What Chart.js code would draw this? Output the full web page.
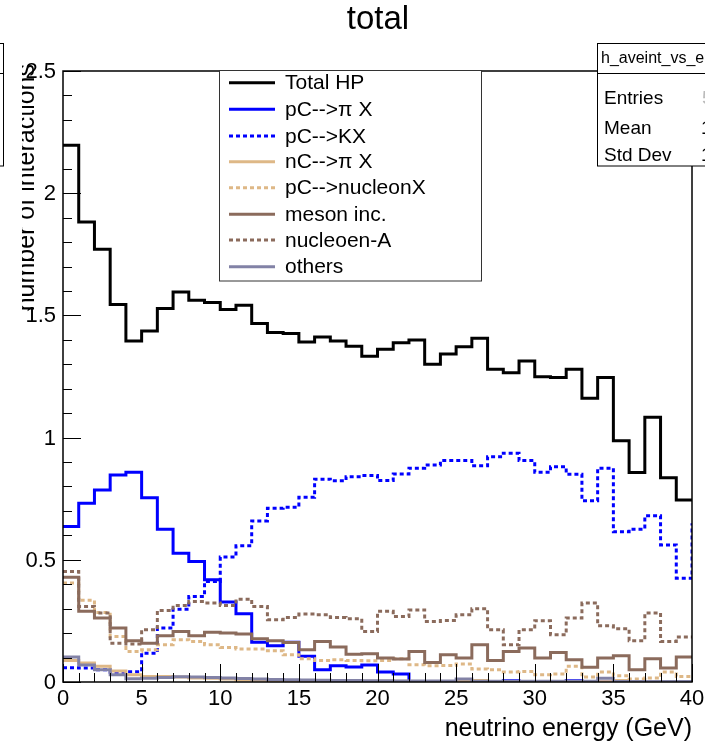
<!DOCTYPE html>
<html>
<head>
<meta charset="utf-8">
<script src="https://cdn.jsdelivr.net/npm/chart.js@4.4.1/dist/chart.umd.min.js"></script>
<style>
  html, body { margin: 0; padding: 0; background: #fff; }
  canvas { display: block; }
</style>
</head>
<body>
<canvas id="chart" width="705" height="742"></canvas>
<script>
// bin edges (GeV), 40 bins of 1 GeV
const binEdges = [0,1,2,3,4,5,6,7,8,9,10,11,12,13,14,15,16,17,18,19,20,
                  21,22,23,24,25,26,27,28,29,30,31,32,33,34,35,36,37,38,39,40];

const xTicks = [0, 5, 10, 15, 20, 25, 30, 35, 40];
const yTicks = [0, 0.5, 1, 1.5, 2, 2.5];
const yTickLabels = ['0', '0.5', '1', '1.5', '2', '2.5'];

const totalHP = [2.196,1.882,1.771,1.545,1.395,1.436,1.528,1.596,1.562,1.553,
                 1.524,1.542,1.467,1.430,1.426,1.391,1.412,1.395,1.374,1.333,
                 1.361,1.388,1.399,1.300,1.342,1.372,1.406,1.280,1.265,1.313,
                 1.249,1.246,1.280,1.161,1.246,0.987,0.857,1.083,0.836,0.745];
const pCpiX = [0.636,0.731,0.786,0.847,0.858,0.754,0.625,0.527,0.493,0.418,
               0.327,0.279,0.163,0.148,0.163,0.105,0.050,0.067,0.061,0.070,
               0.041,0.033,0.002,0,0,0,0,0,0.005,0,
               0,0,0.005,0,0,0,0,0,0,0];
const pCKX = [0.058,0.057,0.050,0.040,0.042,0.118,0.221,0.298,0.350,0.411,
              0.511,0.557,0.659,0.711,0.715,0.756,0.830,0.823,0.840,0.845,
              0.824,0.851,0.875,0.888,0.906,0.906,0.885,0.922,0.936,0.906,
              0.858,0.881,0.850,0.742,0.875,0.615,0.625,0.680,0.561,0.425];
const pCKXOverflow = 0.65;
const nCpiX = [0.088,0.078,0.064,0.045,0.030,0.023,0.022,0.020,0.016,0.015,
               0.012,0.008,0.007,0.006,0.005,0.005,0.004,0.004,0.003,0.003,
               0.003,0.003,0.002,0.002,0.002,0.002,0.006,0.001,0.001,0.001,
               0.001,0.001,0.001,0.001,0.001,0.006,0.001,0.001,0.001,0.001];
const pCnucleonX = [0.405,0.334,0.284,0.186,0.125,0.132,0.152,0.173,0.166,0.152,
                    0.141,0.135,0.135,0.128,0.112,0.095,0.088,0.091,0.088,0.087,
                    0.088,0.095,0.071,0.067,0.068,0.074,0.053,0.050,0.041,0.043,
                    0.030,0.033,0.064,0.020,0.041,0.026,0.012,0.016,0.041,0.023];
const mesonInc = [0.429,0.289,0.262,0.221,0.169,0.159,0.189,0.207,0.189,0.204,
                  0.200,0.196,0.177,0.169,0.162,0.132,0.166,0.143,0.114,0.116,
                  0.098,0.094,0.125,0.080,0.112,0.098,0.152,0.088,0.125,0.139,
                  0.098,0.121,0.091,0.060,0.098,0.107,0.050,0.095,0.057,0.102];
const nucleonA = [0.452,0.309,0.282,0.159,0.155,0.214,0.293,0.313,0.329,0.323,
                  0.313,0.339,0.309,0.255,0.264,0.278,0.275,0.264,0.259,0.207,
                  0.289,0.268,0.295,0.248,0.252,0.275,0.300,0.214,0.152,0.214,
                  0.251,0.193,0.262,0.323,0.230,0.218,0.169,0.282,0.166,0.184];
const others = [0.102,0.070,0.050,0.030,0.013,0.015,0.018,0.021,0.020,0.018,
                0.016,0.014,0.012,0.010,0.009,0.008,0.007,0.006,0.006,0.005,
                0.005,0.004,0.004,0.004,0.004,0.012,0.003,0.003,0.003,0.003,
                0.003,0.003,0.003,0.003,0.015,0.002,0.002,0.002,0.002,0.002];

const seriesLabels = ['Total HP', 'pC-->\u03c0 X', 'pC-->KX', 'nC-->\u03c0 X',
                      'pC-->nucleonX', 'meson inc.', 'nucleoen-A', 'others'];
const seriesColors = ['#000000', '#0000ff', '#0000ff', '#deb887',
                      '#deb887', '#8b6b5c', '#8b6b5c', '#8282a6'];
const seriesDashed = [false, false, true, false, true, false, true, false];

const FONT = '"Liberation Sans", Arial, Helvetica, sans-serif';
const DASH = [4, 3];

// histogram -> stepped points, last point closes the final bin
function histPoints(vals, closeVal) {
    const pts = vals.map((v, i) => ({ x: binEdges[i], y: v }));
    pts.push({ x: binEdges[vals.length], y: closeVal === undefined ? vals[vals.length - 1] : closeVal });
    return pts;
}

const seriesData = [
    histPoints(totalHP), histPoints(pCpiX), histPoints(pCKX, pCKXOverflow), histPoints(nCpiX),
    histPoints(pCnucleonX), histPoints(mesonInc), histPoints(nucleonA), histPoints(others)
];

const datasets = seriesData.map((d, i) => ({
    label: seriesLabels[i],
    data: d,
    borderColor: seriesColors[i],
    borderWidth: 3,
    borderDash: seriesDashed[i] ? DASH : [],
    stepped: true,
    pointRadius: 0,
    fill: false,
    tension: 0,
    order: -i
}));

const rootDecor = {
    id: 'rootDecor',
    beforeDraw(chart) {
        const ctx = chart.ctx;
        ctx.save();
        ctx.fillStyle = '#fff';
        ctx.fillRect(0, 0, chart.width, chart.height);
        ctx.restore();
    },
    afterDatasetsDraw(chart) {
        const ctx = chart.ctx;
        const xs = chart.scales.x, ys = chart.scales.y;
        const a = chart.chartArea;
        ctx.save();

        // frame
        ctx.strokeStyle = '#000';
        ctx.lineWidth = 1.5;
        ctx.strokeRect(a.left, a.top, a.right - a.left, a.bottom - a.top);

        // x ticks (inward)
        ctx.lineWidth = 1;
        ctx.beginPath();
        for (let v = 0; v <= 40; v++) {
            const px = Math.round(xs.getPixelForValue(v)) + 0.5;
            const len = v % 5 === 0 ? 18 : 9;
            ctx.moveTo(px, a.bottom);
            ctx.lineTo(px, a.bottom - len);
        }
        // y ticks (inward)
        for (let k = 0; k <= 25; k++) {
            const py = Math.round(ys.getPixelForValue(k / 10)) + 0.5;
            const len = k % 5 === 0 ? 18 : 9;
            ctx.moveTo(a.left, py);
            ctx.lineTo(a.left + len, py);
        }
        ctx.stroke();

        // tick labels
        ctx.fillStyle = '#000';
        ctx.font = '22px ' + FONT;
        ctx.textAlign = 'center';
        ctx.textBaseline = 'middle';
        xTicks.forEach(v => ctx.fillText(String(v), xs.getPixelForValue(v), a.bottom + 17));
        ctx.textAlign = 'right';
        yTicks.forEach((v, i) => ctx.fillText(yTickLabels[i], 56, ys.getPixelForValue(v) + 1));

        // axis titles
        ctx.font = '25px ' + FONT;
        ctx.textAlign = 'right';
        ctx.textBaseline = 'alphabetic';
        ctx.fillText('neutrino energy (GeV)', a.right, 736);

        // y title is cut by the pad edge in the original
        ctx.save();
        ctx.beginPath();
        ctx.rect(22, 0, 60, chart.height);
        ctx.clip();
        ctx.translate(34, 64);
        ctx.rotate(-Math.PI / 2);
        ctx.textAlign = 'right';
        ctx.fillText('number of interactions', 0, 0);
        ctx.restore();

        // title
        ctx.font = '33px ' + FONT;
        ctx.textAlign = 'center';
        ctx.textBaseline = 'middle';
        ctx.fillText('total', 378, 20);

        // legend
        const lx = 219.5, ly = 70.5, lw = 262, lh = 210.5;
        ctx.fillStyle = '#fff';
        ctx.fillRect(lx, ly, lw, lh);
        ctx.strokeStyle = '#333';
        ctx.lineWidth = 1;
        ctx.strokeRect(lx, ly, lw, lh);
        const rowY = [82.7, 109.3, 136, 161.7, 187.7, 214.3, 240, 266.7];
        ctx.font = '21px ' + FONT;
        ctx.textAlign = 'left';
        ctx.textBaseline = 'middle';
        seriesLabels.forEach((lab, i) => {
            ctx.strokeStyle = seriesColors[i];
            ctx.lineWidth = 3;
            ctx.setLineDash(seriesDashed[i] ? DASH : []);
            ctx.beginPath();
            ctx.moveTo(229, rowY[i]);
            ctx.lineTo(275, rowY[i]);
            ctx.stroke();
            ctx.setLineDash([]);
            ctx.fillStyle = '#000';
            ctx.fillText(lab, 285, rowY[i] + 1);
        });

        // stats box (right) and cut box (left)
        ctx.lineWidth = 1;
        ctx.strokeStyle = '#000';
        [[597.5, 130], [-30.5, 34]].forEach(([bx, bw]) => {
            ctx.fillStyle = '#fff';
            ctx.fillRect(bx, 43.5, bw, 122.5);
            ctx.strokeRect(bx, 43.5, bw, 122.5);
            ctx.beginPath();
            ctx.moveTo(bx, 73.5);
            ctx.lineTo(bx + bw, 73.5);
            ctx.stroke();
        });
        ctx.fillStyle = '#000';
        ctx.font = '16px ' + FONT;
        ctx.fillText('h_aveint_vs_e', 601, 59);
        ctx.font = '19px ' + FONT;
        ctx.fillText('Entries', 604, 99);
        ctx.fillText('Mean', 604, 129);
        ctx.fillText('Std Dev', 604, 156);
        ctx.fillStyle = '#bbb';
        ctx.fillText('5', 702, 99);
        ctx.fillStyle = '#000';
        ctx.fillText('1', 701, 129);
        ctx.fillText('1', 701, 156);

        ctx.restore();
    }
};

new Chart(document.getElementById('chart'), {
    type: 'line',
    data: { datasets },
    options: {
        responsive: false,
        animation: false,
        devicePixelRatio: 1,
        layout: { padding: { left: 63, right: 13, top: 71, bottom: 60 } },
        plugins: { legend: { display: false }, title: { display: false }, tooltip: { enabled: false } },
        scales: {
            x: { type: 'linear', min: 0, max: 40, display: false },
            y: { type: 'linear', min: 0, max: 2.5, display: false }
        }
    },
    plugins: [rootDecor]
});
</script>
</body>
</html>
